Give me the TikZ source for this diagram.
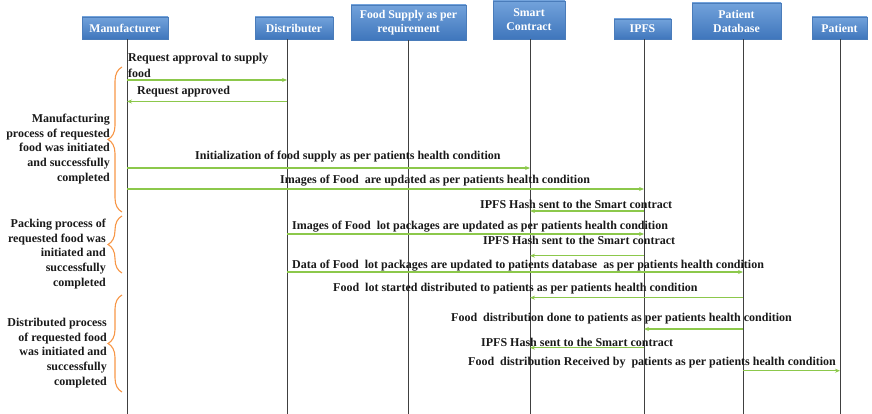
\documentclass[tikz,border=0pt]{standalone}
\usepackage{fontspec}
\setmainfont{Liberation Serif}
\usetikzlibrary{arrows.meta,shadows,decorations.pathreplacing}
\definecolor{hdrtop}{HTML}{72A2DB}
\definecolor{hdrbot}{HTML}{3F76BC}
\definecolor{hdredge}{HTML}{4A7CBA}
\definecolor{msg}{HTML}{8CC84B}
\definecolor{brc}{HTML}{F79646}
\definecolor{life}{HTML}{404040}
\begin{document}
\begin{tikzpicture}[x=1pt,y=-1pt,
 hdr/.style={draw=hdredge, line width=0.4pt, top color=hdrtop, bottom color=hdrbot, text=white,
   font=\fontsize{11.8}{14}\selectfont\bfseries, align=center, inner sep=0pt,
   drop shadow={shadow xshift=1.2pt, shadow yshift=-1.2pt, opacity=0.3, fill=black}},
 lifeline/.style={draw=life, line width=1pt},
 msgarrow/.style={draw=msg, line width=1.2pt, -{Stealth[length=5pt,width=4pt]}},
 lbl/.style={font=\fontsize{12}{14.6}\selectfont\bfseries, text=black!90, inner sep=0pt},
 grp/.style={draw=brc, line width=1.1pt, decorate, decoration={brace, amplitude=14pt}},
]
\useasboundingbox (0,0) rectangle (872,414);

% headers
\node[hdr, minimum width=86pt, minimum height=22pt] (manH) at (125,28) {Manufacturer};
\node[hdr, minimum width=78pt, minimum height=22pt] (disH) at (294,28) {Distributer};
\node[hdr, minimum width=115pt, minimum height=35pt] (fsH) at (408.5,22.5) {Food Supply as per\\requirement};
\node[hdr, minimum width=72pt, minimum height=38pt] (scH) at (529,20) {Smart\\Contract};
\node[hdr, minimum width=57pt, minimum height=20pt] (ipH) at (642.5,29) {IPFS};
\node[hdr, minimum width=89pt, minimum height=36pt] (pdH) at (736.5,21) {Patient\\Database};
\node[hdr, minimum width=55pt, minimum height=22pt] (paH) at (839.5,28) {Patient};

% lifeline tops
\path (manH.south) ++(2,0) coordinate (man);
\path (disH.south) ++(-7,0) coordinate (dis);
\path (fsH.south) ++(-0.5,0) coordinate (fs);
\path (scH.south) ++(1,0) coordinate (sc);
\path (ipH.south) ++(1.5,0) coordinate (ip);
\path (pdH.south) ++(6.5,0) coordinate (pd);
\path (paH.south) ++(0.5,0) coordinate (pa);

\foreach \l in {man,dis,fs,sc,ip,pd,pa}{
  \draw[lifeline] (\l) -- (\l |- 0,414);
}

% messages
\draw[msgarrow] (man |- 0,80) -- (dis |- 0,80);
\node[lbl, align=left, anchor=west, font=\fontsize{12}{16.5}\selectfont\bfseries] (t1) at (128,65.5) {Request approval to supply\\food};
\draw[msgarrow] (dis |- 0,101.5) -- (man |- 0,101.5);
\node[lbl, anchor=base west] (t2) at (137,95) {Request approved};

\draw[msgarrow] (man |- 0,168) -- (sc |- 0,168);
\node[lbl, anchor=base west] (t3) at (195,160) {Initialization of food supply as per patients health condition};
\draw[msgarrow] (man |- 0,189) -- (ip |- 0,189);
\node[lbl, anchor=base west] (t4) at (280,183) {Images of Food~ are updated as per patients health condition};
\draw[msgarrow] (ip |- 0,211) -- (sc |- 0,211);
\node[lbl, anchor=base west] (t5) at (480,208) {IPFS Hash sent to the Smart contract};

\draw[msgarrow] (dis |- 0,234) -- (ip |- 0,234);
\node[lbl, anchor=base west] (t6) at (292,229.7) {Images of Food~ lot packages are updated as per patients health condition};
\draw[msgarrow] (ip |- 0,255.7) -- (sc |- 0,255.7);
\node[lbl, anchor=base west] (t7) at (483,244.7) {IPFS Hash sent to the Smart contract};
\draw[msgarrow] (dis |- 0,272) -- (pd |- 0,272);
\node[lbl, anchor=base west] (t8) at (292,268) {Data of Food~ lot packages are updated to patients database~ as per patients health condition};

\draw[msgarrow] (pd |- 0,297.7) -- (sc |- 0,297.7);
\node[lbl, anchor=base west] (t9) at (333,291) {Food~ lot started distributed to patients as per patients health condition};
\draw[msgarrow] (pd |- 0,329) -- (ip |- 0,329);
\node[lbl, anchor=base west] (t10) at (451,321) {Food~ distribution done to patients as per patients health condition};
\draw[msgarrow] (ip |- 0,347.7) -- (sc |- 0,347.7);
\node[lbl, anchor=base west] (t11) at (481,346) {IPFS Hash sent to the Smart contract};
\draw[msgarrow] (pd |- 0,370.7) -- (pa |- 0,370.7);
\node[lbl, anchor=base west] (t12) at (468,365.7) {Food~ distribution Received by~ patients as per patients health condition};

% groups
\coordinate (g1b) at (122,212); \coordinate (g1t) at (122,67);
\coordinate (g2b) at (122,273); \coordinate (g2t) at (122,216);
\coordinate (g3b) at (122,392); \coordinate (g3t) at (122,295);
\draw[grp] (g1b) -- (g1t);
\draw[grp] (g2b) -- (g2t);
\draw[grp] (g3b) -- (g3t);
\node[lbl, align=right, anchor=east] (p1) at (110,149) {Manufacturing\\process of requested\\food was initiated\\and successfully\\completed};
\node[lbl, align=right, anchor=east] (p2) at (106,254) {Packing process of\\requested food was\\initiated and\\successfully\\completed};
\node[lbl, align=right, anchor=east] (p3) at (107,353) {Distributed process\\of requested food\\was initiated and\\successfully\\completed};
\end{tikzpicture}
\end{document}
